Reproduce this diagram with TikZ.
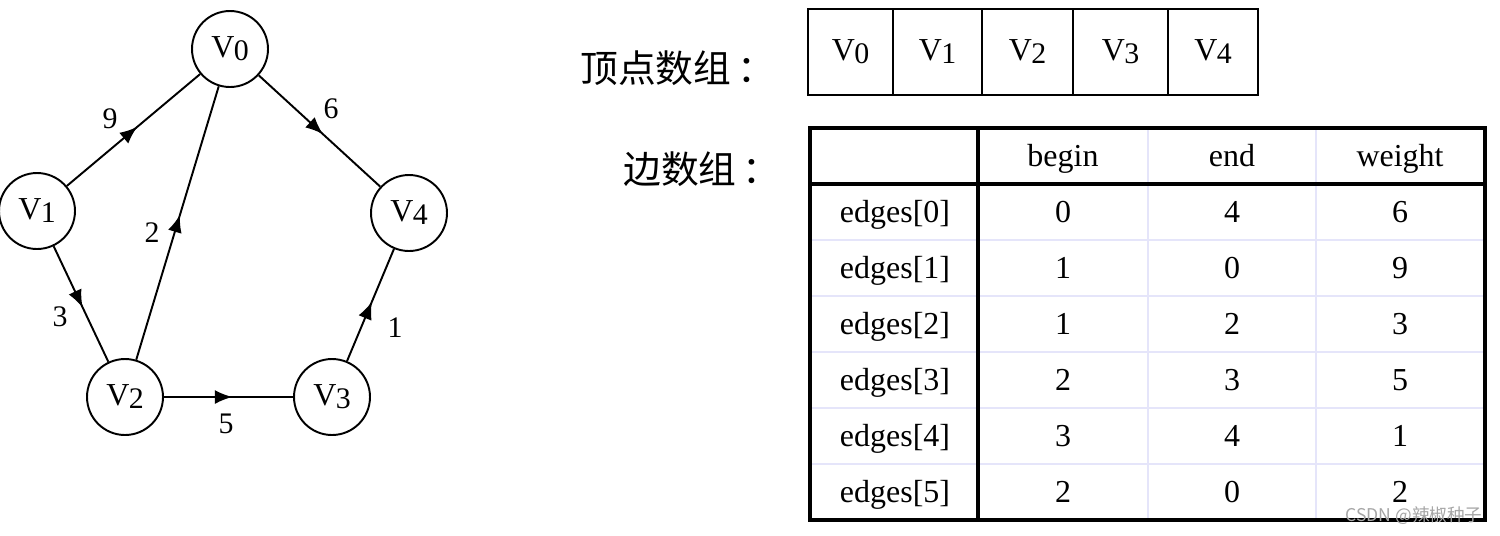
\documentclass[tikz,border=0pt]{standalone}
\usepackage{fontspec}
\setmainfont{Liberation Serif}
\newfontfamily\cjk{Noto Sans CJK SC}
\usetikzlibrary{arrows.meta,decorations.markings}
\newcommand\vx[1]{V\kern-0.02em\raisebox{-0.1em}{\fontsize{17}{18}\selectfont #1}}
\newcommand\tabfont{\fontsize{18.2}{21}\selectfont}
\begin{document}
\begin{tikzpicture}[x=0.02cm,y=-0.02cm,
  vert/.style={circle,draw,line width=1.1pt,minimum size=1.52cm,inner sep=0pt,font=\tabfont,text height=1.0em,text depth=0pt},
  arc/.style={line width=1.1pt,postaction={decorate},
    decoration={markings,mark=at position 0.53 with {\arrow{Latex[length=10pt,width=8pt]}}}},
  wlabel/.style={font=\fontsize{17}{19}\selectfont,inner sep=0pt,text height=0.7em,text depth=0pt,yshift=-4*0.02cm},
  cjklabel/.style={font=\cjk\fontsize{21.5}{24}\selectfont,anchor=west,inner sep=0pt},
  cell/.style={font=\tabfont,inner sep=0pt,text height=0.7em,text depth=0pt,yshift=-4*0.02cm},
  vbox/.style={draw,line width=1.1pt,minimum width=#1,minimum height=1.72cm,inner sep=0pt,font=\tabfont,text height=1.0em,text depth=0pt},
  thick line/.style={line width=2pt},
  grid line/.style={line width=1.6pt,draw=gray!30!blue!12!white},
]
\useasboundingbox (0,0) rectangle (1500,535);
\fill[white] (0,0) rectangle (1500,535);

% graph
\node[vert] (v0) at (230,49) {\vx{0}};
\node[vert] (v1) at (37,211) {\vx{1}};
\node[vert] (v4) at (409,213) {\vx{4}};
\node[vert] (v2) at (125,397) {\vx{2}};
\node[vert] (v3) at (332,397) {\vx{3}};

\draw[arc] (v1) -- (v0);
\draw[arc] (v0) -- (v4);
\draw[arc] (v2) -- (v0);
\draw[arc] (v1) -- (v2);
\draw[arc] (v2) -- (v3);
\draw[arc] (v3) -- (v4);

\node[wlabel] (l9) at (110,118) {9};
\node[wlabel] (l6) at (331,108) {6};
\node[wlabel] (l2) at (152,232) {2};
\node[wlabel] (l3) at (60,316) {3};
\node[wlabel] (l5) at (226,423) {5};
\node[wlabel] (l1) at (395,327) {1};

% vertex array
\node[cjklabel] (tv) at (580,68) {顶点数组\kern0.15em：};
\node[vbox=1.7cm] (a0) at (850.5,52) {\vx{0}};
\node[vbox=1.78cm] (a1) at (937.5,52) {\vx{1}};
\node[vbox=1.82cm] (a2) at (1027.5,52) {\vx{2}};
\node[vbox=1.9cm] (a3) at (1120.5,52) {\vx{3}};
\node[vbox=1.8cm] (a4) at (1213,52) {\vx{4}};

% edge array
\node[cjklabel] (te) at (623,169) {边数组\kern0.15em：};

\foreach \yy in {240,296,352,408,464}
  \draw[grid line] (810,\yy) -- (1485,\yy);
\foreach \xx in {1148,1316}
  \draw[grid line] (\xx,128) -- (\xx,520);
\draw[thick line] (810,128) rectangle (1485,520);
\draw[thick line] (810,184) -- (1485,184);
\draw[thick line] (978,128) -- (978,520);

\node[cell] (hb) at (1063,156) {begin};
\node[cell] (he) at (1232,156) {end};
\node[cell] (hw) at (1400,156) {weight};

\foreach \i/\b/\e/\w [count=\r from 0] in {0/0/4/6,1/1/0/9,2/1/2/3,3/2/3/5,4/3/4/1,5/2/0/2}{
  \pgfmathsetmacro\yy{212+56*\r}
  \node[cell] (r\i) at (895,\yy) {edges[\i]};
  \node[cell] (b\i) at (1063,\yy) {\b};
  \node[cell] (e\i) at (1232,\yy) {\e};
  \node[cell] (w\i) at (1400,\yy) {\w};
}

\node[font=\cjk\fontsize{10}{12}\selectfont,text=gray!70,inner sep=0pt] (wm) at (1414,516) {CSDN @辣椒种子};
\end{tikzpicture}
\end{document}
